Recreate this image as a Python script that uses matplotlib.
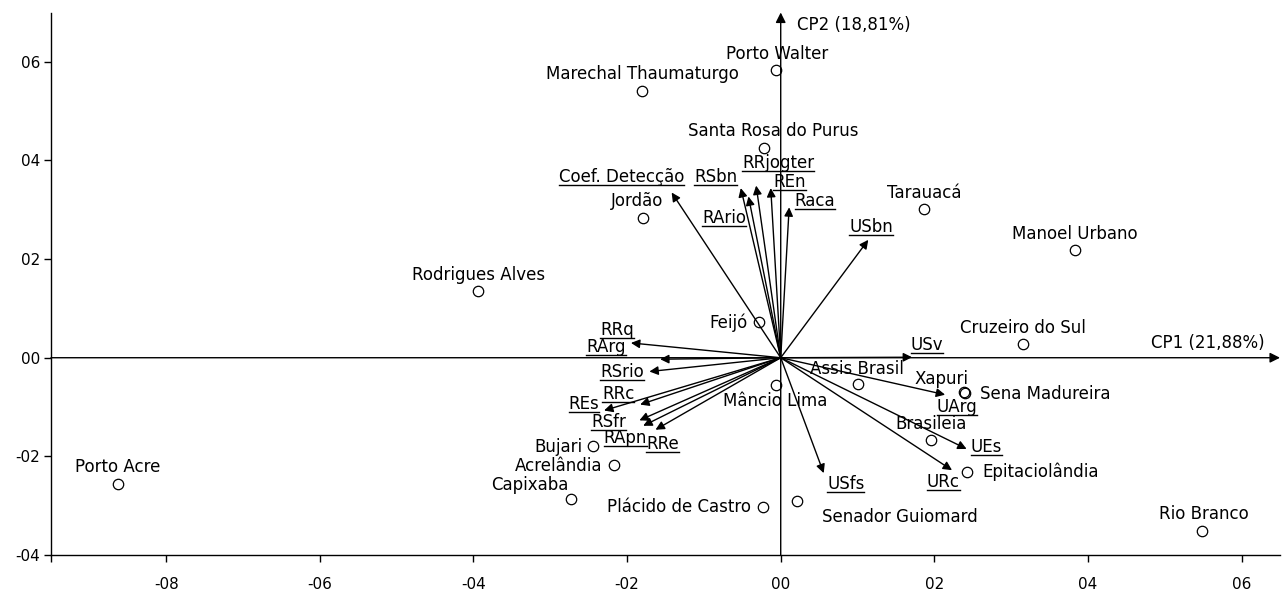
import matplotlib
matplotlib.use('Agg')
import matplotlib.pyplot as plt
from matplotlib.lines import Line2D
from matplotlib.transforms import IdentityTransform

# Scores dos municipios (CP1, CP2)
municipios = ['Porto Walter', 'Marechal Thaumaturgo', 'Santa Rosa do Purus', 'Jordão',
              'Tarauacá', 'Manoel Urbano', 'Rodrigues Alves', 'Feijó', 'Cruzeiro do Sul',
              'Assis Brasil', 'Xapuri', 'Sena Madureira', 'Mâncio Lima', 'Brasileia',
              'Epitaciolândia', 'Bujari', 'Acrelândia', 'Capixaba', 'Plácido de Castro',
              'Senador Guiomard', 'Porto Acre', 'Rio Branco']
mun_cp1 = [-0.006, -0.180, -0.022, -0.179, 0.187, 0.383, -0.394, -0.028, 0.315,
           0.101, 0.239, 0.240, -0.006, 0.196, 0.243, -0.245, -0.217, -0.273, -0.023,
           0.021, -0.863, 0.549]
mun_cp2 = [0.584, 0.540, 0.425, 0.284, 0.301, 0.219, 0.136, 0.072, 0.028,
           -0.053, -0.070, -0.071, -0.055, -0.166, -0.232, -0.178, -0.218, -0.286, -0.302,
           -0.290, -0.257, -0.351]

# Cargas das variaveis (CP1, CP2)
variaveis = ['Coef. Detecção', 'RSbn', 'RArio', 'RRjogter', 'REn', 'Raca', 'USbn',
             'RArg', 'RRq', 'RSrio', 'RRc', 'REs', 'RSfr', 'RApn', 'RRe', 'USfs',
             'USv', 'UArg', 'UEs', 'URc']
var_cp1 = [-0.142, -0.052, -0.042, -0.032, -0.013, 0.011, 0.114,
           -0.195, -0.157, -0.171, -0.183, -0.230, -0.184, -0.179, -0.163, 0.056,
           0.171, 0.214, 0.242, 0.223]
var_cp2 = [0.335, 0.344, 0.327, 0.349, 0.344, 0.305, 0.239,
           0.030, -0.003, -0.028, -0.095, -0.107, -0.127, -0.138, -0.146, -0.234,
           0.001, -0.075, -0.185, -0.228]

x_ticks = [-0.8, -0.6, -0.4, -0.2, 0.0, 0.2, 0.4, 0.6]
x_labels = ['-08', '-06', '-04', '-02', '00', '02', '04', '06']
y_ticks = [-0.4, -0.2, 0.0, 0.2, 0.4, 0.6]
y_labels = ['-04', '-02', '00', '02', '04', '06']
eixo_x = 'CP1 (21,88%)'
eixo_y = 'CP2 (18,81%)'

# posicao dos rotulos em pixels (dx, dy ate a linha de base, alinhamento)
pos_mun = {
    'Porto Walter': (1, 11, 'center'), 'Marechal Thaumaturgo': (0, 12, 'center'),
    'Santa Rosa do Purus': (9, 12, 'center'), 'Jordão': (-6, 12, 'center'),
    'Tarauacá': (0, 11, 'center'), 'Manoel Urbano': (0, 11, 'center'),
    'Rodrigues Alves': (0, 11, 'center'), 'Feijó': (-12, -6, 'right'),
    'Cruzeiro do Sul': (0, 11, 'center'), 'Assis Brasil': (-1, 10, 'center'),
    'Xapuri': (-23, 8, 'center'), 'Sena Madureira': (15, -6, 'left'),
    'Mâncio Lima': (-1, -21, 'center'), 'Brasileia': (0, 11, 'center'),
    'Epitaciolândia': (15, -5, 'left'), 'Bujari': (-10, -6, 'right'),
    'Acrelândia': (-12, -6, 'right'), 'Capixaba': (-3, 9, 'right'),
    'Plácido de Castro': (-12, -5, 'right'), 'Senador Guiomard': (25, -21, 'left'),
    'Porto Acre': (0, 12, 'center'), 'Rio Branco': (1, 12, 'center'),
}
pos_var = {
    'Coef. Detecção': (-50, 11), 'RSbn': (-25, 6), 'RArio': (-24, -27),
    'RRjogter': (22, 18), 'REn': (19, 1), 'Raca': (26, 1), 'USbn': (3, 8),
    'RArg': (-25, -9), 'RRq': (-43, 24), 'RSrio': (-27, -5), 'RRc': (-22, 6),
    'REs': (-20, 1), 'RSfr': (-31, -7), 'RApn': (-18, -17), 'RRe': (7, -19),
    'USfs': (22, -16), 'USv': (15, 7), 'UArg': (12, -17), 'UEs': (20, -3),
    'URc': (-9, -17),
}

plt.rcParams['font.family'] = 'DejaVu Sans'

fig = plt.figure(figsize=(12.82, 5.92), dpi=100)
ax = fig.add_axes([51 / 1282, 37 / 592, 1229 / 1282, 542.5 / 592])
ax.set_xlim(-0.95, 0.65)
ax.set_ylim(-0.4, 0.7)

for s in ['top', 'right']:
    ax.spines[s].set_visible(False)
ax.spines['left'].set_linewidth(1.0)
ax.spines['bottom'].set_linewidth(1.0)

ax.set_xticks(x_ticks)
ax.set_xticklabels(x_labels, fontsize=11)
ax.set_yticks(y_ticks)
ax.set_yticklabels(y_labels, fontsize=11)
ax.set_xticks([-0.95], minor=True)
ax.tick_params(axis='x', which='major', length=5, pad=11, width=1)
ax.tick_params(axis='x', which='minor', length=5, width=1)
ax.tick_params(axis='y', which='major', length=5, pad=3, width=1)

# eixos CP1 e CP2 com seta
seta = dict(arrowstyle='-|>', color='black', lw=1.0, shrinkA=0, shrinkB=0, mutation_scale=13)
seta_eixo = dict(seta, mutation_scale=15)
ax.annotate('', xy=(0.65, 0), xytext=(-0.95, 0), arrowprops=seta_eixo, annotation_clip=False)
ax.annotate('', xy=(0, 0.7), xytext=(0, -0.4), arrowprops=seta_eixo, annotation_clip=False)
ax.annotate(eixo_x, xy=(0.65, 0), xytext=(-15, 10), textcoords='offset pixels',
            ha='right', va='baseline', fontsize=12, annotation_clip=False)
ax.annotate(eixo_y, xy=(0, 0.7), xytext=(16, -17), textcoords='offset pixels',
            ha='left', va='baseline', fontsize=12, annotation_clip=False)

# vetores das variaveis
for nome, vx, vy in zip(variaveis, var_cp1, var_cp2):
    ax.annotate('', xy=(vx, vy), xytext=(0, 0), arrowprops=seta)

# municipios
ax.plot(mun_cp1, mun_cp2, 'o', ms=7.5, mfc='none', mec='black', mew=0.9, ls='none')
for nome, mx, my in zip(municipios, mun_cp1, mun_cp2):
    dx, dy, ha = pos_mun[nome]
    ax.annotate(nome, xy=(mx, my), xytext=(dx, dy), textcoords='offset pixels',
                ha=ha, va='baseline', fontsize=12)

rotulos = []
for nome, vx, vy in zip(variaveis, var_cp1, var_cp2):
    dx, dy = pos_var[nome]
    t = ax.annotate(nome, xy=(vx, vy), xytext=(dx, dy), textcoords='offset pixels',
                    ha='center', va='baseline', fontsize=12)
    rotulos.append((t, vx, vy, dx, dy))

# sublinhado dos nomes das variaveis
fig.canvas.draw()
for t, vx, vy, dx, dy in rotulos:
    bb = t.get_window_extent()
    base = ax.transData.transform((vx, vy))[1] + dy - 3
    fig.add_artist(Line2D([bb.x0, bb.x1], [base, base], transform=IdentityTransform(),
                          color='black', lw=1.0))

fig.savefig('out.png', dpi=100, facecolor='white')
